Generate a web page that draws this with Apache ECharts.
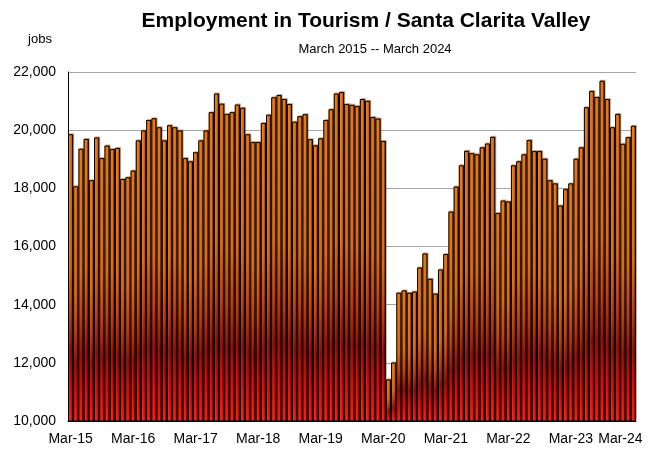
<!DOCTYPE html>
<html>
<head>
<meta charset="utf-8">
<title>Employment in Tourism / Santa Clarita Valley</title>
<script src="https://cdn.jsdelivr.net/npm/echarts@6/dist/echarts.min.js"></script>
<style>
  html, body { margin: 0; padding: 0; background: #fff; }
  #chart { width: 668px; height: 455px; }
</style>
</head>
<body>
<div id="chart"></div>
<script>
// jobs per month
var jobs2015 = [19860, 18070, 19360, 19700, 18280, 19750, 19040, 19470, 19350, 19390]; // Mar-Dec
var jobs2016 = [18320, 18380, 18610, 19650, 19990, 20350, 20410, 20100, 19650, 20170, 20100, 19990];
var jobs2017 = [19040, 18930, 19240, 19650, 19990, 20620, 21260, 20910, 20560, 20620, 20880, 20770];
var jobs2018 = [19860, 19590, 19590, 20250, 20530, 21130, 21210, 21070, 20900, 20290, 20480, 20550];
var jobs2019 = [19690, 19480, 19720, 20350, 20720, 21260, 21310, 20900, 20870, 20830, 21070, 21010];
var jobs2020 = [20450, 20400, 19630, 11430, 12010, 14410, 14490, 14410, 14450, 15280, 15760, 14890];
var jobs2021 = [14380, 15210, 15740, 17200, 18060, 18790, 19290, 19210, 19170, 19410, 19540, 19770];
var jobs2022 = [17150, 17580, 17550, 18790, 18930, 19170, 19660, 19280, 19280, 19020, 18280, 18170];
var jobs2023 = [17410, 17970, 18170, 19020, 19410, 20790, 21350, 21140, 21700, 21070, 20100, 20560];
var jobs2024 = [19530, 19760, 20150]; // Jan-Mar

var monthNames = ['Jan', 'Feb', 'Mar', 'Apr', 'May', 'Jun', 'Jul', 'Aug', 'Sep', 'Oct', 'Nov', 'Dec'];
var yTicks = [10000, 12000, 14000, 16000, 18000, 20000, 22000];

var jobs = [].concat(jobs2015, jobs2016, jobs2017, jobs2018, jobs2019,
                     jobs2020, jobs2021, jobs2022, jobs2023, jobs2024);

// Mar-15 ... Mar-24
var months = [];
for (var y = 2015; y <= 2024; y++) {
  for (var m = 0; m < 12; m++) {
    if (y == 2015 && m < 2) continue;
    if (y == 2024 && m > 2) break;
    months.push(monthNames[m] + '-' + String(y).slice(2));
  }
}

var font = "'Liberation Sans', Arial, sans-serif";

var chart = echarts.init(document.getElementById('chart'), null, { renderer: 'canvas' });

// orange top -> dark red -> bright red bottom, per bar
var barFill = new echarts.graphic.LinearGradient(0, 0, 0, 1, [
  { offset: 0, color: '#EA780F' },
  { offset: 0.45, color: '#E16A0C' },
  { offset: 0.62, color: '#C23C08' },
  { offset: 0.76, color: '#940A02' },
  { offset: 0.88, color: '#E00404' },
  { offset: 1, color: '#FF1A0A' }
]);
// side shading so the bars look rounded
var barShade = new echarts.graphic.LinearGradient(0, 0, 1, 0, [
  { offset: 0, color: 'rgba(0,0,0,0.15)' },
  { offset: 0.25, color: 'rgba(255,255,255,0.1)' },
  { offset: 0.6, color: 'rgba(0,0,0,0)' },
  { offset: 0.75, color: 'rgba(0,0,0,0.35)' },
  { offset: 1, color: 'rgba(0,0,0,0.45)' }
]);

var option = {
  animation: false,
  backgroundColor: '#fff',
  textStyle: { fontFamily: font, color: '#000' },
  title: [
    {
      text: 'Employment in Tourism / Santa Clarita Valley',
      left: 361, top: 6, textAlign: 'center',
      textStyle: { fontFamily: font, fontSize: 21, fontWeight: 'bold', color: '#000' }
    },
    {
      text: 'March 2015 -- March 2024',
      left: 370, top: 38, textAlign: 'center',
      textStyle: { fontFamily: font, fontSize: 13, fontWeight: 'normal', color: '#000' }
    },
    {
      text: 'jobs',
      left: 35, top: 28, textAlign: 'center',
      textStyle: { fontFamily: font, fontSize: 13, fontWeight: 'normal', color: '#000' }
    }
  ],
  grid: { left: 68, right: 32, top: 72, bottom: 34 },
  xAxis: {
    type: 'category',
    data: months,
    boundaryGap: true,
    axisLine: { lineStyle: { color: '#000', width: 1 } },
    axisTick: { interval: 1, length: 5, lineStyle: { color: '#333' } },
    axisLabel: {
      interval: function (i) { return i % 12 === 0; },
      showMaxLabel: true,
      margin: 11, fontSize: 14, color: '#000', fontFamily: font,
      formatter: function (v, i) {
        // last label is pulled in from the right edge
        return i === months.length - 1 ? '{last|' + v + '}' : v;
      },
      rich: {
        last: { fontSize: 14, color: '#000', fontFamily: font, padding: [0, 26, 0, 0] }
      }
    },
    splitLine: { show: false }
  },
  yAxis: {
    type: 'value',
    min: yTicks[0],
    max: yTicks[yTicks.length - 1],
    interval: yTicks[1] - yTicks[0],
    axisLine: { show: true, lineStyle: { color: '#000' } },
    axisTick: { show: false },
    axisLabel: {
      margin: 12, fontSize: 14, color: '#000', fontFamily: font,
      formatter: function (v) { return v.toLocaleString('en-US'); }
    },
    splitLine: { lineStyle: { color: '#A6A6A6', width: 1 } }
  },
  series: [
    {
      name: 'jobs',
      type: 'bar',
      data: jobs,
      barCategoryGap: 0,
      itemStyle: {
        color: barFill,
        shadowColor: 'rgba(0,0,0,0.3)', shadowOffsetX: 1, shadowOffsetY: -1
      }
    },
    {
      name: 'shade',
      type: 'bar',
      data: jobs,
      barGap: '-100%',
      barCategoryGap: 0,
      silent: true,
      itemStyle: { color: barShade, borderColor: '#000', borderWidth: 1 }
    }
  ]
};

chart.setOption(option);
</script>
</body>
</html>
